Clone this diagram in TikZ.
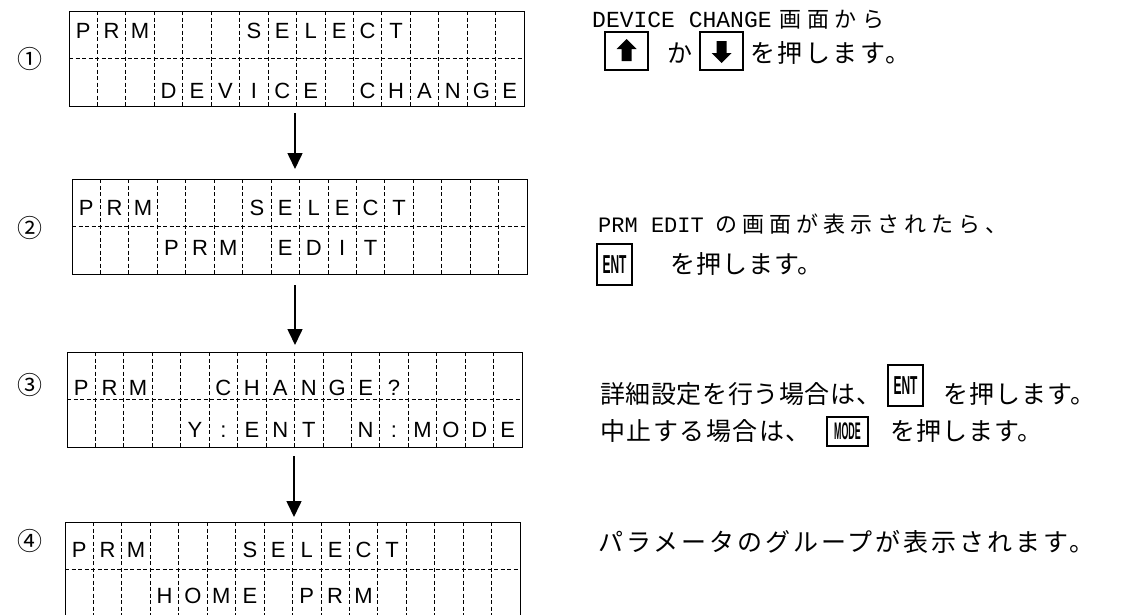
\documentclass[tikz,border=0pt]{standalone}
\usepackage{fontspec}
\usepackage{graphicx}
\usetikzlibrary{arrows.meta,calc}
\setmainfont{Liberation Sans}
\newfontfamily\jpf{Noto Sans CJK JP}
\newfontfamily\latf{Liberation Mono}
\newfontfamily\lcdf{Liberation Sans}
\newcommand\jt[3]{{\fontsize{#1}{#1}\selectfont\jpf\addfontfeature{LetterSpace=#2}#3}}
\newcommand\lt[2]{{\fontsize{#1}{#1}\selectfont\latf #2}}
\newcommand\keytext[3]{\scalebox{#1}[1]{\fontsize{#2}{#2}\selectfont\bfseries #3}}
\tikzset{
  lcdframe/.style={draw, line width=1.2pt, inner sep=0pt, minimum width=455pt},
  gridline/.style={line width=0.8pt, dash pattern=on 4pt off 2.5pt},
  lcdchar/.style={anchor=base, inner sep=0pt, font=\fontsize{22}{22}\selectfont\lcdf},
  flow/.style={-{Triangle[width=15pt,length=16pt]}, line width=1.6pt},
  circnum/.style={anchor=base, inner sep=0pt, font=\fontsize{25}{25}\selectfont\jpf},
  txt/.style={anchor=base west, inner sep=0pt},
  keybox/.style={draw, line width=2.6pt, inner sep=0pt, minimum width=43pt, minimum height=38pt},
  textkey/.style={draw, line width=2.2pt, inner sep=0pt, minimum width=35pt, minimum height=41pt},
}
\newcommand\lcdbox[8]{%
  \node[lcdframe, anchor=north west, minimum height={#4pt-#3pt}] (#1) at (#2,#3) {};
  \draw[gridline] (#2,{(#3+#4)/2}) -- ({#2+455},{(#3+#4)/2});
  \foreach \i in {1,...,15} {\draw[gridline] ({#2+\i*28.4375},#3) -- ({#2+\i*28.4375},#4);}
  \foreach \c [count=\i from 0] in {#5} {\node[lcdchar] (#1a\i) at ({#2+(\i+0.5)*28.4375},#7) {\c};}
  \foreach \c [count=\i from 0] in {#6} {\node[lcdchar] (#1b\i) at ({#2+(\i+0.5)*28.4375},#8) {\c};}
}
\begin{document}
\begin{tikzpicture}[x=1pt,y=-1pt]
\useasboundingbox (0,0) rectangle (1122,614);
% LCD screens
\lcdbox{s1}{69}{11}{106}{P,R,M,,,,S,E,L,E,C,T}{,,,D,E,V,I,C,E,,C,H,A,N,G,E}{38}{98}
\lcdbox{s2}{72}{179}{274}{P,R,M,,,,S,E,L,E,C,T}{,,,P,R,M,,E,D,I,T}{215}{255}
\lcdbox{s3}{67}{352}{447}{P,R,M,,,C,H,A,N,G,E,?}{,,,,Y,:,E,N,T,,N,:,M,O,D,E}{395}{437}
\lcdbox{s4}{65}{522}{617}{P,R,M,,,,S,E,L,E,C,T}{,,,H,O,M,E,,P,R,M}{557}{603}
% step numbers
\node[circnum] (n1) at (30,68) {①};
\node[circnum] (n2) at (30,237) {②};
\node[circnum] (n3) at (30,394) {③};
\node[circnum] (n4) at (30,550) {④};
% arrows
\coordinate (a1s) at (295,113); \coordinate (a1e) at (295,169);
\coordinate (a2s) at (295,285); \coordinate (a2e) at (295,345);
\coordinate (a3s) at (294,456); \coordinate (a3e) at (294,517);
\draw[flow] (a1s) -- (a1e);
\draw[flow] (a2s) -- (a2e);
\draw[flow] (a3s) -- (a3e);
% block 1
\node[txt] (t1a) at (592,27) {\lt{23}{DEVICE CHANGE}\hspace{8pt}\jt{22}{25}{画面から}};
\node[keybox] (kup) at (626.5,51) {};
\fill ($(kup.center)+(0,-12)$) -- ++(10,10) -- ++(-5,0) -- ++(0,12) -- ++(-10,0) -- ++(0,-12) -- ++(-5,0) -- cycle;
\node[txt] (t1b) at (667,62) {\jt{25}{0}{か}};
\node[keybox] (kdown) at (721.5,51) {};
\fill ($(kdown.center)+(0,12)$) -- ++(10,-10) -- ++(-5,0) -- ++(0,-12) -- ++(-10,0) -- ++(0,12) -- ++(-5,0) -- cycle;
\node[txt] (t1c) at (750,62) {\jt{25}{10}{を押します。}};
% block 2
\node[txt] (t2a) at (598,232) {\lt{22}{PRM EDIT}\hspace{12pt}\jt{22}{22.7}{の画面が表示されたら、}};
\node[textkey] (kent1) at (614.5,264.5) {\keytext{0.46}{26}{ENT}};
\node[txt] (t2b) at (670,273) {\jt{25}{4}{を押します。}};
% block 3
\node[txt] (t3a) at (600,403) {\jt{25}{2.4}{詳細設定を行う場合は、}};
\node[textkey] (kent2) at (905.5,385.5) {\keytext{0.46}{26}{ENT}};
\node[txt] (t3b) at (943,403) {\jt{25}{4}{を押します。}};
\node[txt] (t3c) at (600,440) {\jt{25}{6}{中止する場合は、}};
\node[textkey, minimum width=41pt, minimum height=29pt] (kmode) at (847.5,431.5) {\keytext{0.37}{24}{MODE}};
\node[txt] (t3d) at (890,440) {\jt{25}{4}{を押します。}};
% block 4
\node[txt] (t4) at (598,551) {\jt{25}{12}{パラメータのグループが表示されます。}};
\end{tikzpicture}
\end{document}
